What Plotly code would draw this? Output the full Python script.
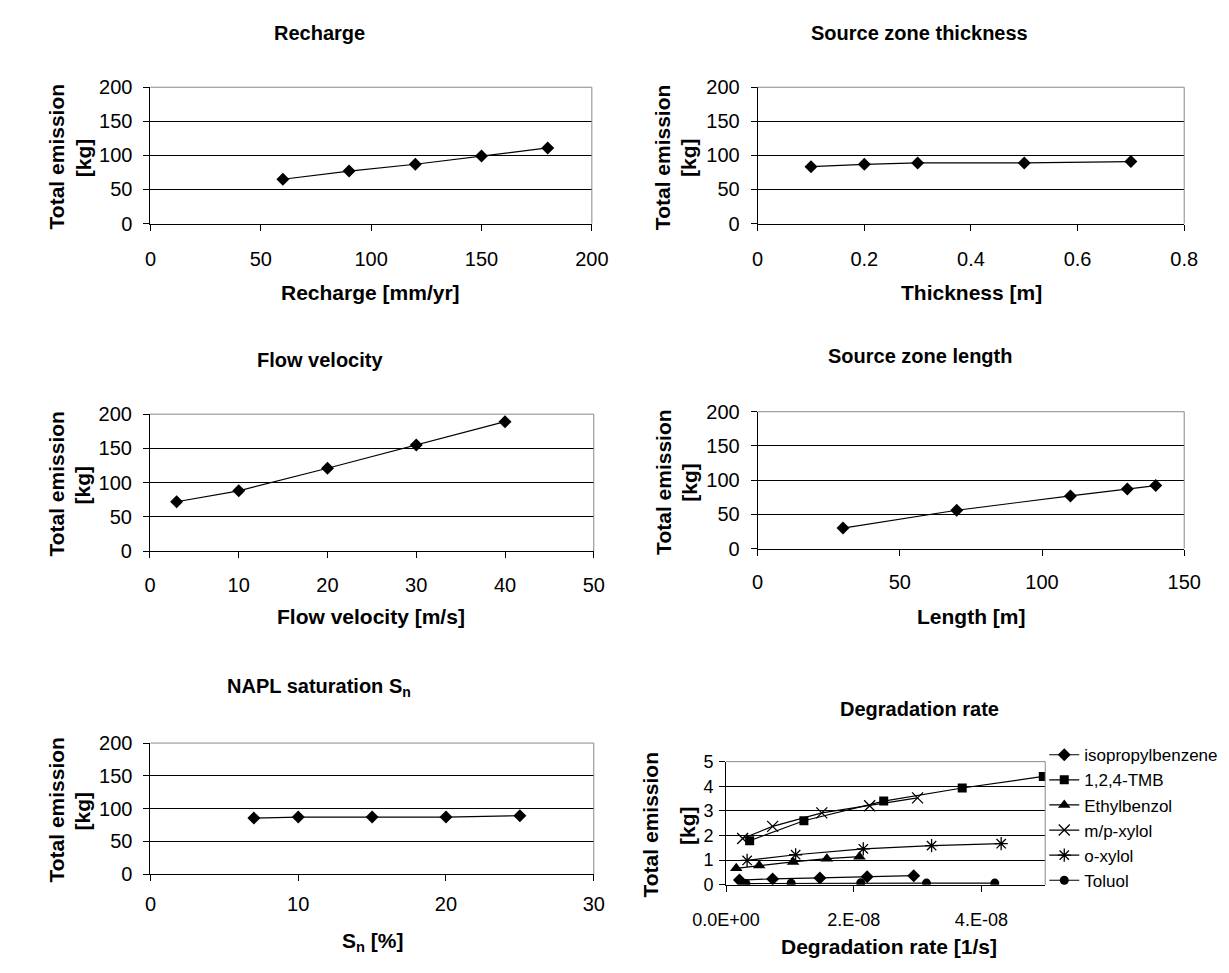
import plotly.graph_objects as go

W, H = 1229, 973
FONT = "Liberation Sans, Arial, sans-serif"

# ---- data -------------------------------------------------------------
recharge_x = [60, 90, 120, 150, 180]
recharge_y = [65, 77, 87, 99, 111]

thickness_x = [0.1, 0.2, 0.3, 0.5, 0.7]
thickness_y = [83.5, 87, 89, 89, 91]

velocity_x = [3, 10, 20, 30, 40]
velocity_y = [72, 88, 121, 155, 189]

length_x = [30, 70, 110, 130, 140]
length_y = [30, 56, 77, 87, 92]

napl_x = [7, 10, 15, 20, 25]
napl_y = [85.5, 87, 87, 87, 89]

degr_names = ["isopropylbenzene", "1,2,4-TMB", "Ethylbenzol", "m/p-xylol", "o-xylol", "Toluol"]
degr_x = [
    [0.21e-8, 0.73e-8, 1.47e-8, 2.21e-8, 2.94e-8],
    [0.37e-8, 1.22e-8, 2.47e-8, 3.70e-8, 4.97e-8],
    [0.16e-8, 0.52e-8, 1.05e-8, 1.58e-8, 2.09e-8],
    [0.26e-8, 0.73e-8, 1.50e-8, 2.25e-8, 3.00e-8],
    [0.33e-8, 1.09e-8, 2.15e-8, 3.22e-8, 4.31e-8],
    [0.31e-8, 1.02e-8, 2.11e-8, 3.14e-8, 4.21e-8],
]
degr_y = [
    [0.19, 0.24, 0.28, 0.33, 0.37],
    [1.79, 2.60, 3.40, 3.93, 4.40],
    [0.67, 0.78, 0.93, 1.06, 1.14],
    [1.88, 2.37, 2.92, 3.21, 3.53],
    [0.99, 1.22, 1.46, 1.59, 1.67],
    [0.05, 0.06, 0.08, 0.07, 0.07],
]
degr_symbols = ["diamond", "square", "triangle-up", "x-thin-open", "asterisk-open", "circle"]
degr_sizes = [10, 9, 11, 11, 11, 9]
degr_tickvals = [0, 2e-8, 4e-8]
degr_ticktext = ["0.0E+00", "2.E-08", "4.E-08"]

# ---- panel layout (pixel boxes: left, right, top, bottom) -------------
panels = [
    dict(box=(121.5, 582, 78, 217.5), xr=[0, 200], dx=50, yr=[0, 200], dy=50,
         title="Recharge", tpos=(298, 22), xt="Recharge [mm/yr]", xtpos=(351, 288),
         yt=(23, 51), tick=20, xstand=11, ystand=7),
    dict(box=(755, 1200, 78, 217.5), xr=[0, 0.8], dx=0.2, yr=[0, 200], dy=50,
         title="Source zone thickness", tpos=(924, 22), xt="Thickness [m]", xtpos=(978, 288),
         yt=(656, 683), tick=20, xstand=11, ystand=7),
    dict(box=(121, 584, 412.5, 552.5), xr=[0, 50], dx=10, yr=[0, 200], dy=50,
         title="Flow velocity", tpos=(298, 357), xt="Flow velocity [m/s]", xtpos=(352, 619),
         yt=(23, 51), tick=20, xstand=10, ystand=7),
    dict(box=(755, 1200, 410, 550), xr=[0, 150], dx=50, yr=[0, 200], dy=50,
         title="Source zone length", tpos=(924, 353), xt="Length [m]", xtpos=(978, 619),
         yt=(656, 683), tick=20, xstand=9, ystand=7),
    dict(box=(121.5, 584, 749, 883), xr=[0, 30], dx=10, yr=[0, 200], dy=50,
         title="NAPL saturation S<sub>n</sub>", tpos=(297, 692), xt="S<sub>n</sub> [%]",
         xtpos=(354, 953), yt=(23, 51), tick=20, xstand=6, ystand=7),
    dict(box=(722, 1055, 768, 894), xr=[0, 5e-8], dx=None, yr=[0, 5], dy=1,
         title="Degradation rate", tpos=(924, 714), xt="Degradation rate [1/s]",
         xtpos=(892, 957), yt=(643, 681), tick=18, xstand=13, ystand=2),
]

fig = go.Figure()

single_series = [
    (recharge_x, recharge_y),
    (thickness_x, thickness_y),
    (velocity_x, velocity_y),
    (length_x, length_y),
    (napl_x, napl_y),
]

for i, (xs, ys) in enumerate(single_series, start=1):
    fig.add_trace(go.Scatter(
        x=xs, y=ys, mode="lines+markers", showlegend=False,
        xaxis=f"x{i}", yaxis=f"y{i}",
        line=dict(color="black", width=1.2),
        marker=dict(symbol="diamond", size=10, color="black"),
    ))

for name, xs, ys, sym, sz in zip(degr_names, degr_x, degr_y, degr_symbols, degr_sizes):
    open_sym = sym.endswith("-open")
    fig.add_trace(go.Scatter(
        x=xs, y=ys, mode="lines+markers", name=name, legendgroup=name,
        xaxis="x6", yaxis="y6",
        line=dict(color="black", width=1.2),
        marker=dict(symbol=sym, size=sz, color="black",
                    line=dict(color="black", width=1.3 if open_sym else 0)),
    ))

annotations = []
shapes = []
layout_axes = {}

for i, p in enumerate(panels, start=1):
    l, r, t, b = p["box"]
    xa = dict(
        domain=[l / W, r / W], range=p["xr"], anchor=f"y{i}",
        showgrid=False, zeroline=False, showline=True, linecolor="black", linewidth=1,
        ticks="outside", ticklen=6, tickcolor="black", tickwidth=1,
        tickfont=dict(family=FONT, size=p["tick"], color="black"),
        ticklabelstandoff=p["xstand"], fixedrange=True,
    )
    if p["dx"] is None:
        xa.update(tickmode="array", tickvals=degr_tickvals, ticktext=degr_ticktext)
    else:
        xa.update(tick0=0, dtick=p["dx"])
    ya = dict(
        domain=[1 - b / H, 1 - t / H], range=p["yr"], anchor=f"x{i}",
        tick0=0, dtick=p["dy"],
        showgrid=True, gridcolor="black", gridwidth=1, zeroline=False,
        showline=True, linecolor="black", linewidth=1,
        ticks="outside", ticklen=6, tickcolor="black", tickwidth=1,
        tickfont=dict(family=FONT, size=p["tick"], color="black"),
        ticklabelstandoff=p["ystand"], fixedrange=True,
    )
    layout_axes["xaxis" if i == 1 else f"xaxis{i}"] = xa
    layout_axes["yaxis" if i == 1 else f"yaxis{i}"] = ya

    # gray frame on top and right of the plot area
    shapes.append(dict(type="line", xref="paper", yref="paper",
                       x0=l / W, x1=r / W, y0=1 - t / H, y1=1 - t / H,
                       line=dict(color="#888888", width=1), layer="above"))
    shapes.append(dict(type="line", xref="paper", yref="paper",
                       x0=r / W, x1=r / W, y0=1 - t / H, y1=1 - b / H,
                       line=dict(color="#888888", width=1), layer="above"))

    tx, ty = p["tpos"]
    annotations.append(dict(text=f"<b>{p['title']}</b>", x=tx / W, y=1 - ty / H,
                            xref="paper", yref="paper", showarrow=False,
                            xanchor="center", yanchor="middle",
                            font=dict(family=FONT, size=20, color="black")))
    ax, ay = p["xtpos"]
    annotations.append(dict(text=f"<b>{p['xt']}</b>", x=ax / W, y=1 - ay / H,
                            xref="paper", yref="paper", showarrow=False,
                            xanchor="center", yanchor="middle",
                            font=dict(family=FONT, size=21, color="black")))
    yc = (t + b) / 2 + 2
    for txt, px in zip(["Total emission", "[kg]"], p["yt"]):
        annotations.append(dict(text=f"<b>{txt}</b>", x=px / W, y=1 - yc / H,
                                xref="paper", yref="paper", showarrow=False,
                                textangle=-90, xanchor="center", yanchor="middle",
                                font=dict(family=FONT, size=21, color="black")))

fig.update_layout(
    width=W, height=H,
    margin=dict(l=0, r=0, t=0, b=0),
    paper_bgcolor="white", plot_bgcolor="white",
    font=dict(family=FONT, color="black"),
    annotations=annotations, shapes=shapes,
    legend=dict(x=1054 / W, y=1 - 743 / H, xanchor="left", yanchor="top",
                font=dict(family=FONT, size=17, color="black"),
                bgcolor="rgba(0,0,0,0)", tracegroupgap=0, itemwidth=30),
    **layout_axes,
)

fig.write_html("out.html")
